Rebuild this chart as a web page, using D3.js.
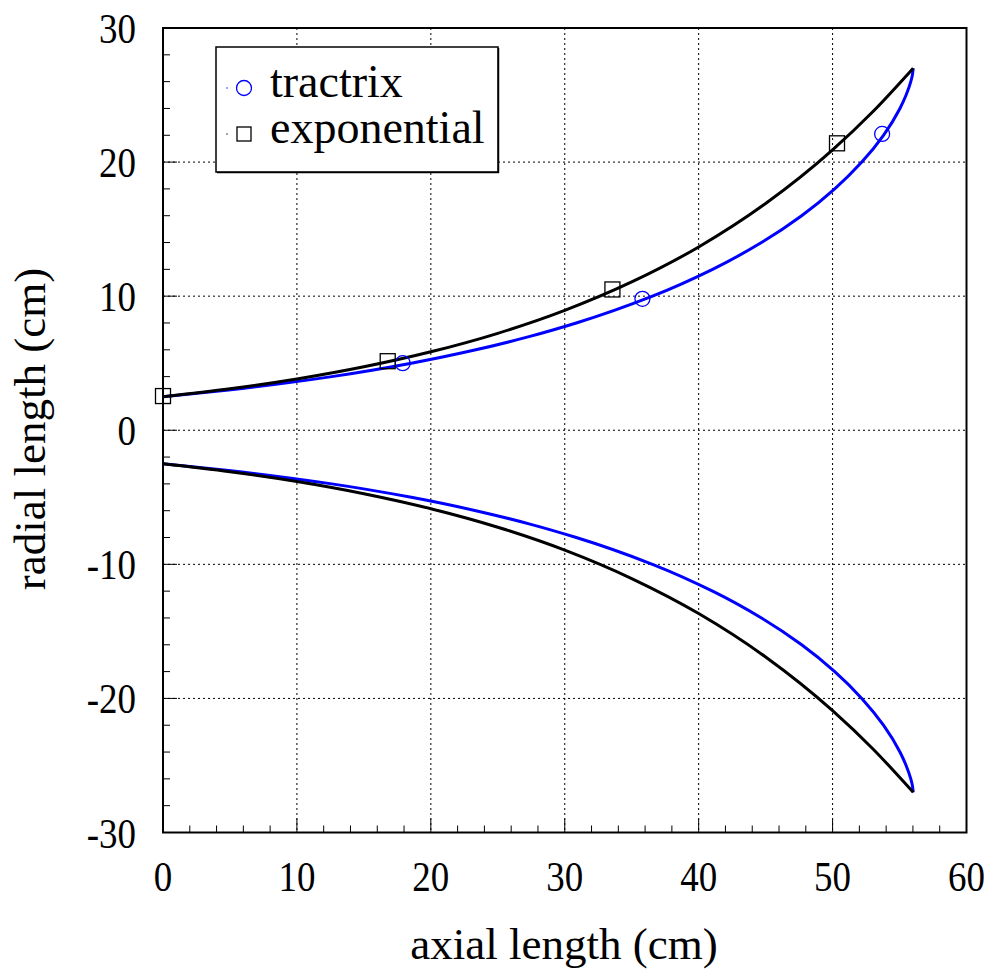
<!DOCTYPE html>
<html><head><meta charset="utf-8">
<script src="https://cdn.jsdelivr.net/npm/d3@7"></script>
<style>body{margin:0;background:#fff}svg{display:block}</style>
</head><body><svg id="c" width="992" height="971"></svg>
<script>
// Tractrix profile (axial length cm, radial length cm)
const tractrixX = [0, 4.90, 12.60, 18.54, 23.36, 27.40, 30.86, 36.55, 41.04, 44.69, 47.69, 50.16, 52.18, 53.80, 55.03, 55.49, 55.84, 55.96, 56.02];
const tractrixR = [2.5, 3.0, 4.0, 5.0, 6.0, 7.0, 8.0, 10.0, 12.0, 14.0, 16.0, 18.0, 20.0, 22.0, 24.0, 25.0, 26.0, 26.5, 27.0];
// Exponential profile
const expX = [0, 5, 10, 15, 20, 25, 30, 35, 40, 45, 50, 53, 56.02];
const expR = [2.5, 3.09, 3.82, 4.73, 5.85, 7.23, 8.94, 11.06, 13.67, 16.91, 20.91, 23.75, 27.0];
// Markers
const tractrixMarkX = [17.9, 35.8, 53.7];
const tractrixMarkR = [5.0, 9.8, 22.1];
const expMarkX = [0, 16.78, 33.56, 50.33];
const expMarkR = [2.55, 5.15, 10.5, 21.4];
// Axes
const xTicks = [0, 10, 20, 30, 40, 50, 60];
const yTicks = [-30, -20, -10, 0, 10, 20, 30];
const legendLabels = ["tractrix", "exponential"];

const svg = d3.select("#c");
const L = 163, R = 966.5, T = 28, B = 832.5;
const x = d3.scaleLinear().domain([0, 60]).range([L, R]);
const y = d3.scaleLinear().domain([-30, 30]).range([B, T]);
const font = "'Liberation Serif','Times New Roman',serif";

// grid
const g = svg.append("g");
g.selectAll(".gx").data(xTicks.filter(d => d > 0 && d < 60)).join("line")
  .attr("x1", d => x(d)).attr("x2", d => x(d)).attr("y1", T).attr("y2", B)
  .attr("stroke", "#000").attr("stroke-width", 1).attr("stroke-dasharray", "2,3");
g.selectAll(".gy").data(yTicks.filter(d => d > -30 && d < 30)).join("line")
  .attr("x1", L).attr("x2", R).attr("y1", d => y(d)).attr("y2", d => y(d))
  .attr("stroke", "#000").attr("stroke-width", 1).attr("stroke-dasharray", "2,3");

// ticks (inside)
const xMinor = d3.range(0, 60.01, 2);
const yMinor = d3.range(-30, 30.01, 2);
svg.append("g").selectAll("line").data(xMinor).join("line")
  .attr("x1", d => x(d)).attr("x2", d => x(d)).attr("y1", B)
  .attr("y2", d => B - (d % 10 === 0 ? 14 : 7)).attr("stroke", "#000").attr("stroke-width", 1);
svg.append("g").selectAll("line").data(yMinor).join("line")
  .attr("y1", d => y(d)).attr("y2", d => y(d)).attr("x1", L)
  .attr("x2", d => L + (Math.abs(d) % 10 === 0 ? 14 : 7)).attr("stroke", "#000").attr("stroke-width", 1);

// frame
svg.append("rect").attr("x", L).attr("y", T).attr("width", R - L).attr("height", B - T)
  .attr("fill", "none").attr("stroke", "#000").attr("stroke-width", 2);

// tick labels (tall, narrow serif)
svg.append("g").selectAll("text").data(xTicks).join("text")
  .attr("transform", d => `translate(${x(d)},891) scale(0.86,1)`).attr("text-anchor", "middle")
  .attr("font-family", font).attr("font-size", 43).text(d => d);
svg.append("g").selectAll("text").data(yTicks).join("text")
  .attr("transform", d => `translate(136,${y(d) + 15}) scale(0.86,1)`).attr("text-anchor", "end")
  .attr("font-family", font).attr("font-size", 43).text(d => d);

// axis titles
svg.append("text").attr("x", 564).attr("y", 959).attr("text-anchor", "middle")
  .attr("font-family", font).attr("font-size", 45).text("axial length (cm)");
svg.append("text").attr("transform", "translate(45,429) rotate(-90)").attr("text-anchor", "middle")
  .attr("font-family", font).attr("font-size", 45).text("radial length (cm)");

// curves
const line = d3.line().x(d => x(d[0])).y(d => y(d[1])).curve(d3.curveMonotoneY);
const lineX = d3.line().x(d => x(d[0])).y(d => y(d[1])).curve(d3.curveMonotoneX);
const tr = tractrixX.map((v, i) => [v, tractrixR[i]]);
const ex = expX.map((v, i) => [v, expR[i]]);
const cg = svg.append("g");
cg.append("path").attr("d", line(tr)).attr("fill", "none").attr("stroke", "#0000ff").attr("stroke-width", 3);
cg.append("path").attr("d", line(tr.map(d => [d[0], -d[1]]))).attr("fill", "none").attr("stroke", "#0000ff").attr("stroke-width", 3);
cg.append("path").attr("d", lineX(ex)).attr("fill", "none").attr("stroke", "#000").attr("stroke-width", 3);
cg.append("path").attr("d", lineX(ex.map(d => [d[0], -d[1]]))).attr("fill", "none").attr("stroke", "#000").attr("stroke-width", 3);

// markers
svg.append("g").selectAll("circle").data(tractrixMarkX).join("circle")
  .attr("cx", d => x(d)).attr("cy", (d, i) => y(tractrixMarkR[i])).attr("r", 7.5)
  .attr("fill", "none").attr("stroke", "#0000ff").attr("stroke-width", 1.3);
svg.append("g").selectAll("rect").data(expMarkX).join("rect")
  .attr("x", d => x(d) - 7.5).attr("y", (d, i) => y(expMarkR[i]) - 7.5).attr("width", 15).attr("height", 15)
  .attr("fill", "none").attr("stroke", "#000").attr("stroke-width", 1.3);

// legend
const lg = svg.append("g");
lg.append("rect").attr("x", 216).attr("y", 47).attr("width", 282).attr("height", 125)
  .attr("fill", "#fff").attr("stroke", "#000").attr("stroke-width", 1.5);
lg.append("line").attr("x1", 217).attr("x2", 499).attr("y1", 172.5).attr("y2", 172.5).attr("stroke", "#000").attr("stroke-width", 1.5);
lg.append("line").attr("x1", 498.5).attr("x2", 498.5).attr("y1", 48).attr("y2", 173).attr("stroke", "#000").attr("stroke-width", 1.5);
const ly = [88, 134];
lg.append("circle").attr("cx", 244).attr("cy", ly[0]).attr("r", 7.5).attr("fill", "none").attr("stroke", "#0000ff").attr("stroke-width", 1.3);
lg.append("rect").attr("x", 237).attr("y", ly[1] - 7).attr("width", 14).attr("height", 14).attr("fill", "none").attr("stroke", "#000").attr("stroke-width", 1.3);
lg.append("circle").attr("cx", 227).attr("cy", ly[0]).attr("r", 0.7).attr("fill", "#0000ff");
lg.append("circle").attr("cx", 227).attr("cy", ly[1]).attr("r", 0.7).attr("fill", "#000");
lg.selectAll("text.l").data(legendLabels).join("text")
  .attr("x", 270).attr("y", (d, i) => ly[i] + 9).attr("font-family", font).attr("font-size", 46).text(d => d);
</script></body></html>
